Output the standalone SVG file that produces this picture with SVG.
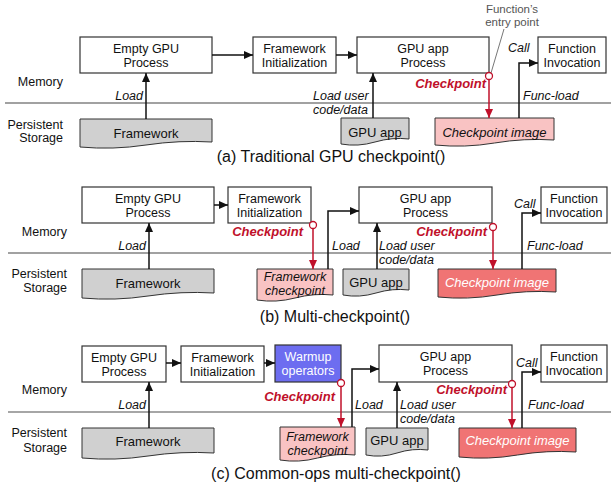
<svg xmlns="http://www.w3.org/2000/svg" width="611" height="489" viewBox="0 0 611 489">
<style>
text{font-family:"Liberation Sans",Arial,sans-serif;fill:#111}
.bx{fill:#fff;stroke:#333;stroke-width:1.2}
.bt{font-size:12.5px;text-anchor:middle}
.doc{stroke:#333;stroke-width:1}
.gray{fill:#d0d0d0}
.pink{fill:#f9c3c3}
.salmon{fill:#f07474}
.dt{font-size:13px;text-anchor:middle}
.d2{font-size:12.5px;text-anchor:middle;font-style:italic}
.it{font-style:italic}
.wt{fill:#fff}
.lbl{font-size:12.5px;font-style:italic}
.mem{font-size:12.5px;text-anchor:end}
.ck{font-size:13px;font-weight:bold;font-style:italic;fill:#c0102a;text-anchor:end}
.cap{font-size:16px;text-anchor:middle}
.sep{stroke:#444;stroke-width:1.2}
.c{fill:none;stroke:#111;stroke-width:1.5}
.r{fill:none;stroke:#c0102a;stroke-width:1.5}
.dot{fill:#fff;stroke:#c0102a;stroke-width:1.3}
</style>
<defs>
<marker id="ab" markerUnits="userSpaceOnUse" markerWidth="9" markerHeight="8" refX="9" refY="4" orient="auto"><path d="M0,0 L9,4 L0,8 Z" fill="#111"/></marker>
<marker id="ar" markerUnits="userSpaceOnUse" markerWidth="9" markerHeight="8" refX="9" refY="4" orient="auto"><path d="M0,0 L9,4 L0,8 Z" fill="#c0102a"/></marker>
</defs>

<!-- ===== (a) ===== -->
<g id="a-labels">
<text class="mem" x="63" y="86">Memory</text>
<text class="mem" x="63" y="128.5">Persistent</text>
<text class="mem" x="63" y="141.5">Storage</text>
<line class="sep" x1="5" y1="103" x2="611" y2="103"/>
<text class="cap" x="331" y="162">(a) Traditional GPU checkpoint()</text>
</g>
<g id="a-empty"><rect class="bx" x="80" y="37" width="132" height="36"/><text class="bt" x="146" y="52.5">Empty GPU</text><text class="bt" x="146" y="66.5">Process</text></g>
<g id="a-fwinit"><rect class="bx" x="253" y="37" width="83" height="36"/><text class="bt" x="294.5" y="52.5">Framework</text><text class="bt" x="294.5" y="66.5">Initialization</text></g>
<g id="a-gpuproc"><rect class="bx" x="357" y="37" width="132" height="36"/><text class="bt" x="423" y="52.5">GPU app</text><text class="bt" x="423" y="66.5">Process</text></g>
<g id="a-func"><rect class="bx" x="538" y="37" width="68" height="36"/><text class="bt" x="572" y="52.5">Function</text><text class="bt" x="572" y="66.5">Invocation</text></g>
<g id="a-fw"><path class="doc gray" d="M80,147 Q113,150 146,145 T212,142 V119 H80 Z"/><text class="dt" x="146" y="137.5">Framework</text></g>
<g id="a-gpuapp"><path class="doc gray" d="M341,144 Q358,147 375,142 T409,139 V118 H341 Z"/><text class="dt" x="375" y="137">GPU app</text></g>
<g id="a-ckimg"><path class="doc pink" d="M435,145 Q464.75,148 494.5,143 T554,140 V118 H435 Z"/><text class="dt it" x="494.5" y="137">Checkpoint image</text></g>
<g id="a-entry"><text x="512" y="12.5" style="font-size:11.5px;text-anchor:middle;fill:#555">Function’s</text><text x="512" y="26" style="font-size:11.5px;text-anchor:middle;fill:#555">entry point</text></g>
<g id="a-connectors">
<line class="c" x1="212" y1="55" x2="253" y2="55" marker-end="url(#ab)"/>
<line class="c" x1="336" y1="55" x2="357" y2="55" marker-end="url(#ab)"/>
<line class="c" x1="146" y1="119" x2="146" y2="73" marker-end="url(#ab)"/>
<text class="lbl" x="143" y="100" text-anchor="end">Load</text>
<line class="c" x1="373" y1="118" x2="373" y2="73" marker-end="url(#ab)"/>
<text class="lbl" x="313" y="100">Load user</text>
<text class="lbl" x="313" y="113.5">code/data</text>
<line x1="491" y1="73" x2="504" y2="29" stroke="#777" stroke-width="1"/>
<line class="r" x1="489" y1="79.5" x2="489" y2="118" marker-end="url(#ar)"/>
<circle class="dot" cx="489" cy="76" r="3.5"/>
<text class="ck" x="486" y="88">Checkpoint</text>
<polyline class="c" points="519,118 519,63 538,63" marker-end="url(#ab)"/>
<text class="lbl" x="508" y="52">Call</text>
<text class="lbl" x="523" y="100">Func-load</text>
</g>

<!-- ===== (b) ===== -->
<g id="b-labels">
<text class="mem" x="67" y="236">Memory</text>
<text class="mem" x="67" y="277.5">Persistent</text>
<text class="mem" x="67" y="291.5">Storage</text>
<line class="sep" x1="8" y1="253" x2="611" y2="253"/>
<text class="cap" x="335" y="322">(b) Multi-checkpoint()</text>
</g>
<g id="b-empty"><rect class="bx" x="82" y="187" width="132" height="36"/><text class="bt" x="148" y="202.5">Empty GPU</text><text class="bt" x="148" y="216.5">Process</text></g>
<g id="b-fwinit"><rect class="bx" x="228" y="187" width="83" height="36"/><text class="bt" x="269.5" y="202.5">Framework</text><text class="bt" x="269.5" y="216.5">Initialization</text></g>
<g id="b-gpuproc"><rect class="bx" x="359" y="187" width="133" height="36"/><text class="bt" x="425.5" y="202.5">GPU app</text><text class="bt" x="425.5" y="216.5">Process</text></g>
<g id="b-func"><rect class="bx" x="541" y="187" width="66" height="36"/><text class="bt" x="574" y="202.5">Function</text><text class="bt" x="574" y="216.5">Invocation</text></g>
<g id="b-fw"><path class="doc gray" d="M82,298 Q115,301 148,296 T214,293 V269 H82 Z"/><text class="dt" x="148" y="288">Framework</text></g>
<g id="b-fwck"><path class="doc pink" d="M257,300 Q276,303 295,298 T333,295 V269 H257 Z"/><text class="d2" x="295" y="281">Framework</text><text class="d2" x="295" y="295">checkpoint</text></g>
<g id="b-gpuapp"><path class="doc gray" d="M343,295 Q359.5,298 376,293 T409,290 V269 H343 Z"/><text class="dt" x="376" y="287">GPU app</text></g>
<g id="b-ckimg"><path class="doc salmon" d="M438,297 Q467.5,300 497,295 T556,292 V269 H438 Z"/><text class="dt it wt" x="497" y="287">Checkpoint image</text></g>
<g id="b-connectors">
<line class="c" x1="214" y1="205" x2="228" y2="205" marker-end="url(#ab)"/>
<line class="c" x1="149" y1="269" x2="149" y2="223" marker-end="url(#ab)"/>
<text class="lbl" x="146" y="250" text-anchor="end">Load</text>
<line class="r" x1="313" y1="228.5" x2="313" y2="269" marker-end="url(#ar)"/>
<circle class="dot" cx="313" cy="225" r="3.5"/>
<text class="ck" x="303" y="236">Checkpoint</text>
<polyline class="c" points="328,269 328,211 359,211" marker-end="url(#ab)"/>
<text class="lbl" x="332" y="250">Load</text>
<line class="c" x1="377" y1="269" x2="377" y2="223" marker-end="url(#ab)"/>
<text class="lbl" x="379" y="250">Load user</text>
<text class="lbl" x="379" y="263.5">code/data</text>
<line class="r" x1="493" y1="230.5" x2="493" y2="269" marker-end="url(#ar)"/>
<circle class="dot" cx="493" cy="227" r="3.5"/>
<text class="ck" x="487" y="236">Checkpoint</text>
<polyline class="c" points="522,269 522,213 541,213" marker-end="url(#ab)"/>
<text class="lbl" x="514" y="208">Call</text>
<text class="lbl" x="527" y="250">Func-load</text>
</g>

<!-- ===== (c) ===== -->
<g id="c-labels">
<text class="mem" x="67" y="394">Memory</text>
<text class="mem" x="67" y="436.5">Persistent</text>
<text class="mem" x="67" y="451.5">Storage</text>
<line x1="8" y1="412" x2="611" y2="412" stroke="#888" stroke-width="1.5"/>
<text class="cap" x="336" y="479">(c) Common-ops multi-checkpoint()</text>
</g>
<g id="c-empty"><rect class="bx" x="82" y="346" width="84" height="36"/><text class="bt" x="124" y="361.5">Empty GPU</text><text class="bt" x="124" y="375.5">Process</text></g>
<g id="c-fwinit"><rect class="bx" x="181" y="346" width="83" height="36"/><text class="bt" x="222.5" y="361.5">Framework</text><text class="bt" x="222.5" y="375.5">Initialization</text></g>
<g id="c-warmup"><rect x="275" y="345" width="66" height="37" fill="#6d6df0" stroke="#333" stroke-width="1.2"/><text class="bt wt" x="308" y="361">Warmup</text><text class="bt wt" x="308" y="375">operators</text></g>
<g id="c-gpuproc"><rect class="bx" x="379" y="345" width="133" height="37"/><text class="bt" x="445.5" y="361">GPU app</text><text class="bt" x="445.5" y="375">Process</text></g>
<g id="c-func"><rect class="bx" x="541" y="345" width="66" height="37"/><text class="bt" x="574" y="361">Function</text><text class="bt" x="574" y="375">Invocation</text></g>
<g id="c-fw"><path class="doc gray" d="M82,458 Q115,461 148,456 T214,453 V428 H82 Z"/><text class="dt" x="148" y="445.5">Framework</text></g>
<g id="c-fwck"><path class="doc pink" d="M280,460 Q298.75,463 317.5,458 T355,455 V427 H280 Z"/><text class="d2" x="317.5" y="441">Framework</text><text class="d2" x="317.5" y="455">checkpoint</text></g>
<g id="c-gpuapp"><path class="doc gray" d="M366,455 Q381.5,458 397,453 T428,450 V428 H366 Z"/><text class="dt" x="397" y="444.5">GPU app</text></g>
<g id="c-ckimg"><path class="doc salmon" d="M459,457 Q488.25,460 517.5,455 T576,452 V428 H459 Z"/><text class="dt it wt" x="517.5" y="444.5">Checkpoint image</text></g>
<g id="c-connectors">
<line class="c" x1="166" y1="363" x2="181" y2="363" marker-end="url(#ab)"/>
<line class="c" x1="264" y1="363" x2="275" y2="363" marker-end="url(#ab)"/>
<line class="c" x1="149" y1="428" x2="149" y2="382" marker-end="url(#ab)"/>
<text class="lbl" x="146" y="409" text-anchor="end">Load</text>
<line class="r" x1="341" y1="386.5" x2="341" y2="427" marker-end="url(#ar)"/>
<circle class="dot" cx="341" cy="383" r="3.5"/>
<text class="ck" x="335" y="401">Checkpoint</text>
<polyline class="c" points="352,427 352,369 379,369" marker-end="url(#ab)"/>
<text class="lbl" x="355" y="409">Load</text>
<line class="c" x1="397" y1="428" x2="397" y2="382" marker-end="url(#ab)"/>
<text class="lbl" x="400" y="409">Load user</text>
<text class="lbl" x="400" y="423">code/data</text>
<line class="r" x1="512" y1="387.5" x2="512" y2="428" marker-end="url(#ar)"/>
<circle class="dot" cx="512" cy="384" r="3.5"/>
<text class="ck" x="507" y="394">Checkpoint</text>
<polyline class="c" points="522,428 522,372 541,372" marker-end="url(#ab)"/>
<text class="lbl" x="516" y="367">Call</text>
<text class="lbl" x="528" y="409">Func-load</text>
</g>
</svg>
